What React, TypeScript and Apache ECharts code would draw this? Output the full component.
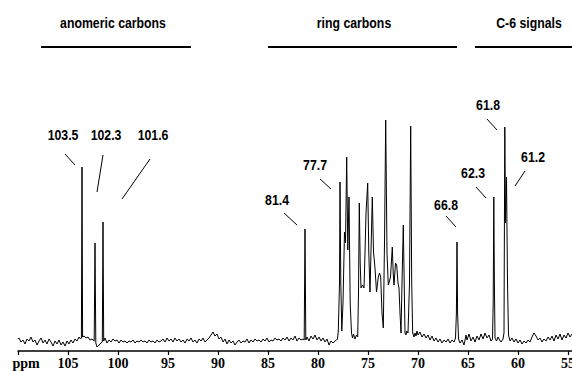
import React, { useEffect, useRef } from "react";
import * as echarts from "echarts";

// [ppm, intensity] points (intensity in px above baseline)
const anomericRegion: [number, number][] = [
  [110.0, 4], [109.9, 5], [109.7, 1], [109.5, 3], [109.3, -1], [109.1, 4], [108.9, 2], [108.7, 6],
  [108.5, 1], [108.3, 3], [108.1, -2], [107.9, 2], [107.7, 5], [107.5, 0], [107.3, 3], [107.1, -1],
  [106.9, 4], [106.7, 1], [106.5, -3], [106.3, 2], [106.1, -1], [105.9, 3], [105.7, -2], [105.5, 1],
  [105.3, -3], [105.1, 2], [104.9, -1], [104.7, 3], [104.5, 0], [104.3, 4], [104.1, 2], [103.9, 6],
  [103.75, 4], [103.66, 5], [103.6, 176], [103.54, 6], [103.4, 7], [103.2, 5], [103.0, 6], [102.8, 3],
  [102.6, 4], [102.38, 2], [102.3, 100], [102.22, 0], [102.1, -4], [101.9, -2], [101.7, 0],
  [101.57, 1], [101.5, 121], [101.43, 2], [101.3, 5], [101.1, 0], [100.9, 3], [100.7, 1], [100.5, 4],
  [100.3, 2], [100.1, 3], [99.9, 0], [99.7, 3], [99.5, 1], [99.3, 2], [99.1, 0], [98.9, 2], [98.7, 1],
  [98.5, 3], [98.3, 0], [98.1, 2], [97.9, 1], [97.7, 3], [97.5, 1], [97.3, 2], [97.1, 0], [96.9, 3],
  [96.7, 1], [96.5, 2], [96.3, 0], [96.1, 3], [95.9, 1], [95.7, 2], [95.5, 4], [95.3, 1], [95.1, 5],
];

const midRegion: [number, number][] = [
  [94.9, 2], [94.7, 4], [94.5, 1], [94.3, 5], [94.1, 2], [93.9, 4], [93.7, 1], [93.5, 3], [93.3, 0],
  [93.1, 4], [92.9, 2], [92.7, 5], [92.5, 1], [92.3, 3], [92.1, 0], [91.9, 4], [91.7, 2], [91.5, 5],
  [91.3, 1], [91.1, 3], [90.9, 5], [90.7, 8], [90.5, 11], [90.3, 7], [90.1, 9], [89.9, 4], [89.7, 6],
  [89.5, 1], [89.3, 4], [89.1, -1], [88.9, 3], [88.7, 0], [88.5, 2], [88.3, -2], [88.1, 1], [87.9, 3],
  [87.7, 0], [87.5, 2], [87.3, 1], [87.1, 4], [86.9, 0], [86.7, 3], [86.5, 1], [86.3, 4], [86.1, 2],
  [85.9, 3], [85.7, 1], [85.5, 4], [85.3, 2], [85.1, 5], [84.9, 1], [84.7, 3], [84.5, 2], [84.3, 5],
  [84.1, 3], [83.9, 4], [83.7, 2], [83.5, 5], [83.3, 3], [83.1, 6], [82.9, 2], [82.7, 5], [82.5, 3],
  [82.3, 7], [82.1, 2], [81.9, 5], [81.7, 3], [81.5, 4], [81.38, 3], [81.3, 114], [81.22, 3], [81.1, 6],
  [80.9, 2], [80.7, 7], [80.5, 4], [80.3, 8], [80.1, 3], [79.9, 6], [79.7, 2], [79.5, 5], [79.3, 1],
  [79.1, 4], [78.9, -2], [78.7, 2], [78.5, 0], [78.3, 2], [78.15, 3],
];

const ringRegion: [number, number][] = [
  [78.05, 4], [77.97, 12], [77.85, 60], [77.8, 161], [77.72, 60], [77.62, 12], [77.5, 40], [77.35, 111],
  [77.25, 100], [77.13, 186], [77.02, 93], [76.9, 146], [76.78, 40], [76.65, 10], [76.55, 5], [76.45, 9],
  [76.3, 4], [76.15, 8], [76.03, 6], [75.95, 50], [75.87, 140], [75.78, 80], [75.7, 55], [75.55, 58],
  [75.4, 55], [75.3, 90], [75.2, 130], [75.03, 160], [74.92, 90], [74.8, 51], [74.68, 100], [74.57, 146],
  [74.45, 91], [74.3, 75], [74.15, 51], [73.97, 66], [73.85, 70], [73.73, 66], [73.6, 30], [73.47, 15],
  [73.35, 100], [73.23, 223], [73.1, 90], [72.97, 58], [72.85, 62], [72.75, 66], [72.57, 96], [72.48, 70],
  [72.4, 58], [72.25, 80], [72.13, 78], [72.0, 60], [71.9, 55], [71.8, 30], [71.7, 10], [71.6, 60],
  [71.47, 118], [71.38, 60], [71.3, 10], [71.2, 8], [71.13, 12], [71.0, 10], [70.85, 60], [70.73, 217],
  [70.63, 60], [70.53, 10],
];

const c6Region: [number, number][] = [
  [70.4, 6], [70.3, 10], [70.2, 7], [70.1, 12], [70.0, 8], [69.8, 11], [69.6, 6], [69.4, 9], [69.2, 5],
  [69.0, 8], [68.8, 3], [68.6, 7], [68.4, 2], [68.2, 5], [68.0, 1], [67.8, 4], [67.6, 0], [67.4, 3],
  [67.2, 1], [67.0, 4], [66.8, 0], [66.6, 3], [66.4, 1], [66.25, 5], [66.16, 30], [66.1, 101],
  [66.04, 30], [65.95, 4], [65.8, 0], [65.6, 3], [65.4, -2], [65.2, 8], [65.1, 3], [64.9, 9], [64.7, 2],
  [64.5, 6], [64.3, 1], [64.1, 7], [63.9, 3], [63.7, 9], [63.5, 4], [63.3, 10], [63.1, 5], [62.9, 8],
  [62.7, 2], [62.55, 4], [62.48, 40], [62.42, 146], [62.36, 60], [62.3, 5], [62.15, 2], [62.0, 6],
  [61.85, 3], [61.7, 1], [61.5, 4], [61.4, 10], [61.32, 216], [61.25, 120], [61.15, 166], [61.05, 60],
  [60.95, 8], [60.8, 2], [60.6, 5], [60.4, 1], [60.2, 4], [60.0, 0], [59.8, 3], [59.6, -1], [59.4, 2],
  [59.2, 0], [59.0, 3], [58.8, 1], [58.6, 6], [58.4, 10], [58.2, 7], [58.0, 3], [57.8, 5], [57.6, 1],
  [57.4, 4], [57.2, 2], [57.0, 6], [56.8, 3], [56.6, 7], [56.4, 2], [56.2, 8], [56.0, 4], [55.8, 9],
  [55.6, 3], [55.4, 8], [55.2, 5], [55.0, 10], [54.8, 6], [54.6, 9], [54.4, 5],
];

const regionTitles = ["anomeric carbons", "ring carbons", "C-6 signals"];
const peakLabels = ["103.5", "102.3", "101.6", "81.4", "77.7", "66.8", "62.3", "61.8", "61.2"];

const SANS = '"Liberation Sans", Arial, sans-serif';
const SERIF = '"Liberation Serif", "Times New Roman", serif';

// annotation layout (pixels)
const titleLayout = [
  { cx: 113, cy: 23, x1: 41, x2: 191 },
  { cx: 354, cy: 23, x1: 268, x2: 457 },
  { cx: 529, cy: 23, x1: 475, x2: 572 },
];
const labelLayout = [
  { cx: 63, cy: 135, l: [65, 154, 75, 165] },
  { cx: 106, cy: 135, l: [103, 155, 97, 192] },
  { cx: 153, cy: 135, l: [150, 159, 122, 199] },
  { cx: 277, cy: 200, l: [284, 213, 297, 225] },
  { cx: 315, cy: 165, l: [320, 179, 331, 189] },
  { cx: 446, cy: 205, l: [446, 216, 456, 227] },
  { cx: 473, cy: 173, l: [476, 187, 486, 198] },
  { cx: 488, cy: 105, l: [487, 119, 497, 130] },
  { cx: 533, cy: 157, l: [525, 171, 515, 186] },
];

export default function App() {
  const ref = useRef<HTMLDivElement>(null);
  useEffect(() => {
    if (!ref.current) return;
    const chart = echarts.init(ref.current, null, { renderer: "svg" });
    const spectrum = [...anomericRegion, ...midRegion, ...ringRegion, ...c6Region];
    const graphic: any[] = [];
    const txt = (t: string, x: number, y: number) => ({
      type: "text", x, y, scaleX: 0.82,
      style: { text: t, fontSize: 15, fontWeight: "bold", fontFamily: SANS, fill: "#000", align: "center", verticalAlign: "middle" },
    });
    regionTitles.forEach((t, i) => {
      const L = titleLayout[i];
      graphic.push(txt(t, L.cx, L.cy));
      graphic.push({
        type: "line", shape: { x1: L.x1, y1: 47, x2: L.x2, y2: 47 },
        style: { stroke: "#000", lineWidth: 2 },
      });
    });
    peakLabels.forEach((t, i) => {
      const L = labelLayout[i];
      graphic.push(txt(t, L.cx, L.cy));
      graphic.push({
        type: "line", shape: { x1: L.l[0], y1: L.l[1], x2: L.l[2], y2: L.l[3] },
        style: { stroke: "#000", lineWidth: 1 },
      });
    });
    graphic.push({
      type: "text", x: 26, y: 363,
      style: { text: "ppm", fontSize: 14, fontWeight: "bold", fontFamily: SERIF, fill: "#000", align: "center", verticalAlign: "middle" },
    });
    chart.setOption({
      animation: false,
      backgroundColor: "#fff",
      grid: { left: 18, right: -46, top: 100, bottom: 20, containLabel: false, outerBoundsMode: "none" },
      xAxis: {
        type: "value", inverse: true, min: 50, max: 110, interval: 5,
        axisLine: { show: true, onZero: false, lineStyle: { color: "#000", width: 1.5 } },
        axisTick: { show: true, length: 4, lineStyle: { color: "#000", width: 1.2 } },
        splitLine: { show: false },
        axisLabel: {
          margin: 5, color: "#000", fontSize: 14, fontWeight: "bold", fontFamily: SERIF,
          formatter: (v: number) => (v === 110 || v === 50 ? "" : String(v)),
        },
      },
      yAxis: { type: "value", min: -8, max: 243, show: false },
      series: [
        {
          type: "line", data: spectrum, showSymbol: false, smooth: false,
          lineStyle: { color: "#000", width: 1 }, silent: true,
        },
      ],
      graphic,
    });
    return () => chart.dispose();
  }, []);
  return <div ref={ref} style={{ position: "fixed", left: 0, top: 0, width: 572, height: 371 }} />;
}
